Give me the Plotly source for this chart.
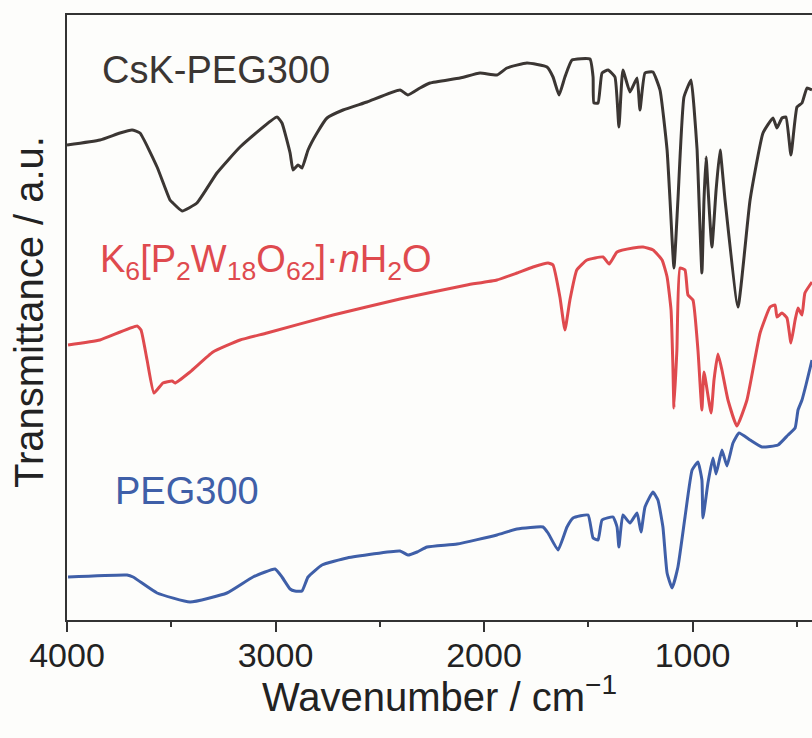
import plotly.graph_objects as go

# ---- Data (wavenumber in cm^-1, transmittance in arbitrary offset units) ----
csk_wn = [4000, 3842, 3746, 3688, 3650, 3568, 3506, 3492, 3448, 3377, 3281, 3170, 2993, 2969, 2930, 2916,
          2892, 2873, 2844, 2801, 2753, 2676, 2561, 2403, 2365, 2307, 2259, 2115, 2019, 1938, 1890, 1794,
          1698, 1669, 1640, 1612, 1578, 1492, 1477, 1473, 1453, 1434, 1405, 1372, 1353, 1334, 1300, 1266,
          1252, 1228, 1190, 1156, 1122, 1108, 1089, 1070, 1041, 1007, 993, 978, 969, 955, 945, 935, 926,
          907, 887, 868, 844, 782, 724, 662, 614, 595, 571, 552, 528, 499, 475, 451, 427]
csk_t = [475, 480, 487, 490, 487, 453, 420, 417, 409, 417, 447, 473, 503, 497, 467, 450,
         455, 452, 470, 487, 502, 510, 518, 530, 525, 532, 537, 542, 547, 545, 552, 557,
         553, 543, 525, 543, 560, 561, 543, 517, 517, 547, 550, 543, 493, 550, 528, 542,
         510, 547, 548, 530, 470, 420, 352, 420, 523, 540, 513, 470, 420, 347, 420, 463, 433,
         373, 430, 470, 420, 313, 420, 487, 502, 492, 502, 503, 465, 513, 517, 532, 530]

pom_wn = [3995, 3842, 3664, 3645, 3616, 3583, 3540, 3496, 3482, 3410, 3300, 3170, 3041, 2724, 2403, 2245,
          2082, 1938, 1842, 1765, 1693, 1669, 1636, 1612, 1588, 1555, 1506, 1429, 1400, 1362, 1285, 1237,
          1189, 1146, 1122, 1103, 1094, 1089, 1075, 1060, 1036, 1022, 998, 974, 955, 945, 911, 897, 878,
          859, 830, 787, 739, 676, 628, 604, 595, 571, 547, 528, 508, 494, 475, 461, 427]
pom_t = [275, 280, 294, 290, 260, 227, 237, 239, 237, 248, 268, 280, 287, 305, 321, 328,
         335, 340, 347, 353, 357, 355, 323, 290, 320, 350, 360, 363, 356, 368, 372, 373,
         370, 360, 343, 310, 253, 212, 270, 352, 350, 325, 320, 270, 210, 248, 207, 240, 266,
         250, 220, 194, 220, 287, 313, 315, 303, 307, 302, 277, 300, 312, 305, 327, 338]

peg_wn = [3995, 3712, 3683, 3568, 3410, 3233, 3108, 3002, 2969, 2930, 2907, 2873, 2844, 2777, 2657, 2403,
          2365, 2321, 2273, 2129, 1938, 1842, 1717, 1693, 1645, 1602, 1573, 1501, 1477, 1453, 1434, 1381,
          1362, 1353, 1334, 1300, 1266, 1247, 1228, 1190, 1166, 1142, 1122, 1098, 1070, 1036, 1002, 974,
          955, 950, 926, 902, 887, 859, 835, 806, 777, 724, 667, 590, 542, 508, 494, 475, 456, 427]
peg_t = [43, 45, 43, 27, 18, 27, 43, 51, 43, 31, 29, 29, 43, 55, 62, 69,
         65, 68, 73, 76, 85, 91, 93, 87, 70, 93, 102, 105, 82, 80, 100, 103,
         93, 73, 105, 97, 107, 88, 113, 128, 120, 93, 47, 32, 53, 103, 150, 158,
         140, 102, 137, 162, 146, 170, 154, 177, 187, 180, 173, 175, 185, 192, 210, 220, 235, 260]

series_names = ["CsK-PEG300", "K<sub>6</sub>[P<sub>2</sub>W<sub>18</sub>O<sub>62</sub>]·<i>n</i>H<sub>2</sub>O", "PEG300"]
series_colors = ["#3b3633", "#df4a4e", "#3f5fa8"]
x_ticks = [4000, 3000, 2000, 1000]

FONT = "Liberation Sans, Arial, Helvetica, sans-serif"
NARROW = "Liberation Sans Narrow, Arial Narrow, Liberation Sans, Arial, sans-serif"

fig = go.Figure()
for wn, t, col, nm in zip([csk_wn, pom_wn, peg_wn], [csk_t, pom_t, peg_t], series_colors,
                          ["CsK-PEG300", "K6[P2W18O62]·nH2O", "PEG300"]):
    fig.add_trace(go.Scatter(x=wn, y=t, mode="lines", name=nm,
                             line=dict(color=col, width=3, shape="spline", smoothing=0.4),
                             showlegend=False, hoverinfo="skip"))

# series labels (left edge in wavenumber, vertical centre in data units)
label_pos = [(3842, 550, series_colors[0]), (3851, 358, series_colors[1]), (3779, 129, series_colors[2])]
for (lx, ly, col), txt in zip(label_pos, series_names):
    fig.add_annotation(x=lx, y=ly, xref="x", yref="y", text=txt, showarrow=False,
                       xanchor="left", yanchor="middle",
                       font=dict(family=FONT, size=38, color=col))

# axis titles
fig.add_annotation(x=0.5, y=-0.122, xref="paper", yref="paper", xanchor="center", yanchor="middle",
                   text="Wavenumber / cm<sup>−1</sup>", showarrow=False,
                   font=dict(family=FONT, size=40, color="#222222"))
fig.add_annotation(x=-0.051, y=0.509, xref="paper", yref="paper", xanchor="center", yanchor="middle",
                   text="Transmittance / a.u.", textangle=-90, showarrow=False,
                   font=dict(family=FONT, size=40, color="#222222"))

fig.update_layout(
    width=812, height=738,
    margin=dict(l=67, r=0, t=15, b=118),
    paper_bgcolor="#fdfdfb", plot_bgcolor="#fdfdfb",
    xaxis=dict(range=[4000, 427], tickvals=x_ticks, ticktext=[str(v) for v in x_ticks],
               ticks="outside", ticklen=10, tickwidth=2, tickcolor="#333333",
               showline=True, linecolor="#333333", linewidth=2, mirror=True,
               showgrid=False, zeroline=False, ticklabelstandoff=-6,
               tickfont=dict(family=NARROW, size=34, color="#222222"),
               minor=dict(tickvals=[3500, 2500, 1500, 500], ticks="outside", ticklen=5,
                          tickwidth=2, tickcolor="#333333", showgrid=False)),
    yaxis=dict(range=[0, 605], showticklabels=False, ticks="", showline=True,
               linecolor="#333333", linewidth=2, showgrid=False, zeroline=False),
)

fig.write_html("out.html")
